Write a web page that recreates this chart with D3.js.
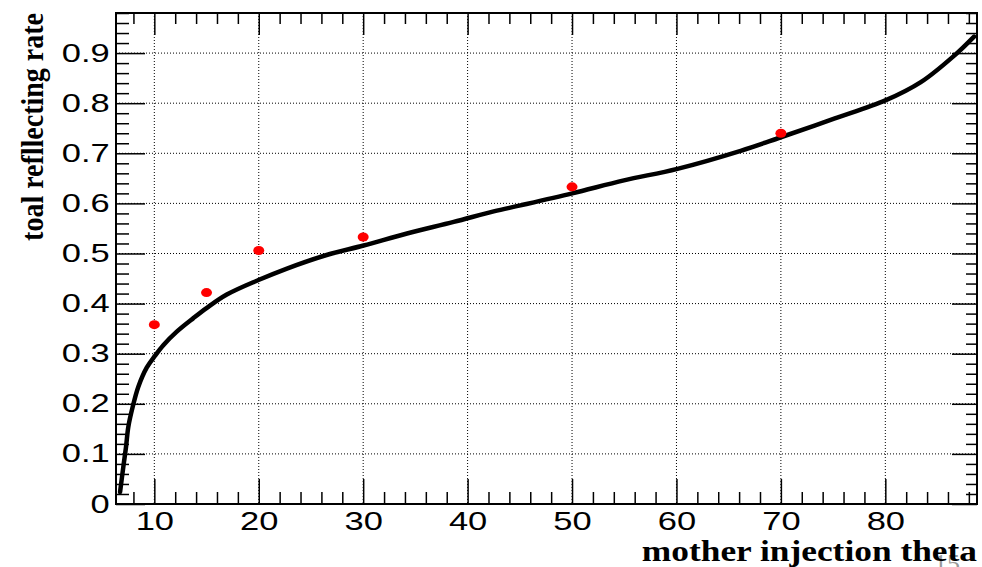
<!DOCTYPE html>
<html lang="en">
	<head>
		<meta charset="utf-8">
		<title>toal reflecting rate</title>
		<script src="https://d3js.org/d3.v7.min.js"></script>
		<style type="text/css">
			body {
				margin: 0;
				background-color: #ffffff;
			}
			.tick text {
				font-family: "Liberation Sans", Arial, Helvetica, sans-serif;
				font-size: 25px;
				fill: #000;
			}
			.title {
				font-family: "Liberation Serif", "Times New Roman", serif;
				font-weight: bold;
				fill: #000;
			}
		</style>
	</head>
	<body>
		<script type="text/javascript">

			// Fitted curve
			var curveTheta = [6.72, 7.03, 7.29, 7.51, 7.93, 8.47, 9.27, 10.07, 10.86, 12.15, 13.74, 15.0, 16.94, 19.97, 22.7, 26.5, 30.04, 34.2, 38.67, 42.5, 45.06, 50.02, 54.97, 60.09, 66.15, 69.99, 75.1, 80.06, 83.4, 86.6, 88.5];
			var curveRate  = [0.024, 0.074, 0.114, 0.154, 0.194, 0.234, 0.272, 0.296, 0.317, 0.344, 0.371, 0.391, 0.418, 0.447, 0.470, 0.497, 0.516, 0.540, 0.563, 0.584, 0.596, 0.620, 0.646, 0.669, 0.705, 0.732, 0.769, 0.806, 0.842, 0.895, 0.933];

			// Measured points
			var pointTheta = [10, 15, 20, 30, 50, 70];
			var pointRate  = [0.358, 0.422, 0.506, 0.533, 0.633, 0.740];

			// Ticks
			var xTicks = [10, 20, 30, 40, 50, 60, 70, 80];
			var yTicks = [0, 0.1, 0.2, 0.3, 0.4, 0.5, 0.6, 0.7, 0.8, 0.9];

			var w = 982;
			var h = 567;
			// frame edges (note: "top" is reserved on window)
			var padL = 116, padR = 977, padT = 13, padB = 504;
			// the source picture is stretched sideways, so the text is too
			var stretch = 1.38;

			var x = d3.scaleLinear()
				.domain([6.33, 88.78])
				.range([padL, padR]);

			var y = d3.scaleLinear()
				.domain([0, 0.98])
				.range([padB, padT]);

			var xMinor = d3.range(8, 89, 2).filter(function(d) { return d % 10 !== 0; });
			var yMinor = d3.range(0, 99, 2).map(function(d) { return d / 100; })
				.filter(function(d) { return Math.round(d * 100) % 10 !== 0; });

			var svg = d3.select("body")
				.append("svg")
				.attr("width", w)
				.attr("height", h);

			// Dotted grid
			svg.append("g")
				.selectAll("line")
				.data(xTicks)
				.enter().append("line")
				.attr("x1", function(d) { return x(d); })
				.attr("x2", function(d) { return x(d); })
				.attr("y1", padT)
				.attr("y2", padB)
				.attr("stroke", "#000")
				.attr("stroke-width", 1)
				.attr("stroke-dasharray", "1,2");

			svg.append("g")
				.selectAll("line")
				.data(yTicks.slice(1))
				.enter().append("line")
				.attr("x1", padL)
				.attr("x2", padR)
				.attr("y1", function(d) { return y(d); })
				.attr("y2", function(d) { return y(d); })
				.attr("stroke", "#000")
				.attr("stroke-width", 1)
				.attr("stroke-dasharray", "1,2");

			// Axes: major ticks with labels, minor ticks without
			function styleAxis(g) {
				g.select(".domain").remove();
				g.selectAll(".tick line").attr("stroke", "#000").attr("stroke-width", 1.5);
			}

			svg.append("g")
				.attr("transform", "translate(0," + padB + ")")
				.call(d3.axisBottom(x).tickValues(xTicks).tickSize(-25).tickPadding(8))
				.call(styleAxis)
				.selectAll(".tick text")
				.attr("transform", "scale(" + stretch + ",1)");
			svg.append("g")
				.attr("transform", "translate(0," + padB + ")")
				.call(d3.axisBottom(x).tickValues(xMinor).tickSize(-12).tickFormat(""))
				.call(styleAxis);
			svg.append("g")
				.attr("transform", "translate(0," + padT + ")")
				.call(d3.axisTop(x).tickValues(xTicks).tickSize(-22).tickFormat(""))
				.call(styleAxis);
			svg.append("g")
				.attr("transform", "translate(0," + padT + ")")
				.call(d3.axisTop(x).tickValues(xMinor).tickSize(-11).tickFormat(""))
				.call(styleAxis);

			svg.append("g")
				.attr("transform", "translate(" + padL + ",0)")
				.call(d3.axisLeft(y).tickValues(yTicks).tickSize(-29).tickPadding(4.5)
					.tickFormat(function(d) { return d === 0 ? "0" : d3.format(".1f")(d); }))
				.call(styleAxis)
				.selectAll(".tick text")
				.attr("transform", "scale(" + stretch + ",1)");
			svg.append("g")
				.attr("transform", "translate(" + padL + ",0)")
				.call(d3.axisLeft(y).tickValues(yMinor).tickSize(-13).tickFormat(""))
				.call(styleAxis);
			svg.append("g")
				.attr("transform", "translate(" + padR + ",0)")
				.call(d3.axisRight(y).tickValues(yTicks).tickSize(-25).tickFormat(""))
				.call(styleAxis);
			svg.append("g")
				.attr("transform", "translate(" + padR + ",0)")
				.call(d3.axisRight(y).tickValues(yMinor).tickSize(-11).tickFormat(""))
				.call(styleAxis);

			// Frame
			svg.append("rect")
				.attr("x", padL)
				.attr("y", padT)
				.attr("width", padR - padL)
				.attr("height", padB - padT)
				.attr("fill", "none")
				.attr("stroke", "#000")
				.attr("stroke-width", 2);

			// Curve
			var line = d3.line()
				.x(function(d, i) { return x(curveTheta[i]); })
				.y(function(d) { return y(d); })
				.curve(d3.curveCatmullRom.alpha(0.5));

			svg.append("path")
				.datum(curveRate)
				.attr("d", line)
				.attr("fill", "none")
				.attr("stroke", "#000")
				.attr("stroke-width", 4.5)
				.attr("stroke-linecap", "round");

			// Points
			svg.append("g")
				.selectAll("ellipse")
				.data(pointRate)
				.enter().append("ellipse")
				.attr("cx", function(d, i) { return x(pointTheta[i]); })
				.attr("cy", function(d) { return y(d); })
				.attr("rx", 5.5)
				.attr("ry", 4.5)
				.attr("fill", "#ff0000");

			// Page number left over from the slide
			svg.append("text")
				.attr("x", 947)
				.attr("y", 572)
				.attr("text-anchor", "middle")
				.attr("font-family", "Liberation Serif, serif")
				.attr("font-size", "26px")
				.attr("fill", "#999999")
				.text("15");

			// Axis titles
			svg.append("text")
				.attr("class", "title")
				.attr("transform", "translate(977,561) scale(1.22,1)")
				.attr("text-anchor", "end")
				.attr("font-size", "29px")
				.text("mother injection theta");

			svg.append("text")
				.attr("class", "title")
				.attr("transform", "translate(43,13) scale(1.15,1) rotate(-90)")
				.attr("text-anchor", "end")
				.attr("font-size", "28px")
				.text("toal refllecting rate");

		</script>
	</body>
</html>
